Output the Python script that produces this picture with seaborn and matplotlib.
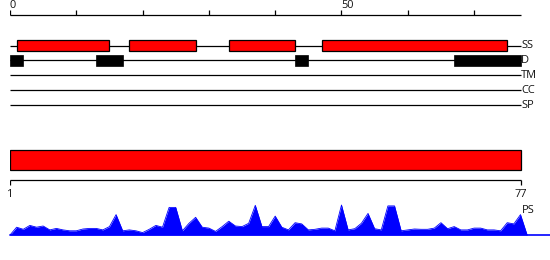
import matplotlib
matplotlib.use("Agg")
import matplotlib.pyplot as plt
import seaborn as sns
import numpy as np
import pandas as pd

# ---- data ----
seq_len = 77
ruler_ticks = [0, 10, 20, 30, 40, 50, 60, 70]
ruler_labels = ["0", "", "", "", "", "50", "", ""]
ss_segments = [(1, 15), (18, 28), (33, 43), (47, 75)]
d_segments = [(0, 2), (13, 17), (43, 45), (67, 77)]
track_names = ["SS", "D", "TM", "CC", "SP"]
bottom_ticks = [0, 77]
bottom_labels = ["1", "77"]
ps_positions = list(range(1, 78))
ps_values = [0.26, 0.19, 0.32, 0.26, 0.30, 0.17, 0.22, 0.17, 0.14, 0.14,
             0.20, 0.22, 0.22, 0.17, 0.28, 0.68, 0.14, 0.17, 0.14, 0.08,
             0.19, 0.32, 0.26, 0.92, 0.92, 0.14, 0.39, 0.59, 0.26, 0.23,
             0.12, 0.28, 0.46, 0.30, 0.28, 0.39, 0.99, 0.28, 0.28, 0.63,
             0.26, 0.17, 0.41, 0.37, 0.17, 0.19, 0.23, 0.23, 0.14, 1.00,
             0.17, 0.21, 0.39, 0.72, 0.21, 0.17, 0.97, 0.97, 0.14, 0.17,
             0.20, 0.19, 0.19, 0.23, 0.41, 0.21, 0.28, 0.17, 0.17, 0.23,
             0.23, 0.17, 0.17, 0.14, 0.41, 0.37, 0.68]

sns.set_theme(style="white")
plt.rcParams['font.family'] = ['Open Sans', 'DejaVu Sans']

W, H = 550, 260
fig = plt.figure(figsize=(W / 100, H / 100), dpi=100)
fig.patch.set_facecolor("white")

left_px = 10
px_per_unit = 510.5 / seq_len
xmax = (W - left_px) / px_per_unit

# layout (pixel rows)
ruler_y = 15
row_y = {"SS": 45.5, "D": 60.3, "TM": 75.3, "CC": 90.2, "SP": 105.3}
bar_h = 10.4
big_top, big_bot = 150, 170.3
axis2_y = 180.3
fs = 7.9
txt_color = "#111111"

ax = fig.add_axes([left_px / W, 0, (W - left_px) / W, 1])
ax.set_xlim(0, xmax)
ax.set_ylim(H, 0)
ax.axis("off")

# top ruler
ax.hlines(ruler_y, 0, seq_len, color="black", lw=0.9)
ax.vlines(ruler_ticks, ruler_y - 5, ruler_y, color="black", lw=0.9)
for t, lab in zip(ruler_ticks, ruler_labels):
    if lab:
        ax.text(t, 5, lab, ha="left", va="center", fontsize=fs, color=txt_color)

# tracks
for name in track_names:
    y = row_y[name]
    ax.hlines(y, 0, seq_len, color="black", lw=0.9, zorder=1)
    ax.text(seq_len + 0.1, y, name, ha="left", va="center", fontsize=fs, color=txt_color)

ax.barh([row_y["SS"]] * len(ss_segments), [e - s for s, e in ss_segments],
        left=[s for s, e in ss_segments], height=bar_h, color="#ff0000",
        edgecolor="black", linewidth=0.9, zorder=2)
ax.barh([row_y["D"]] * len(d_segments), [e - s for s, e in d_segments],
        left=[s for s, e in d_segments], height=bar_h + 0.3, color="black",
        edgecolor="black", linewidth=0.5, zorder=2)

# big red bar
ax.barh([(big_top + big_bot) / 2], [seq_len], left=[0], height=big_bot - big_top,
        color="#ff0000", edgecolor="black", linewidth=0.9)

# bottom ruler
ax.hlines(axis2_y, 0, seq_len, color="black", lw=0.9)
ax.vlines(bottom_ticks, axis2_y, axis2_y + 5, color="black", lw=0.9)
for t, lab in zip(bottom_ticks, bottom_labels):
    ax.text(t, 194.5, lab, ha="center", va="center", fontsize=fs, color=txt_color)
ax.text(seq_len + 0.15, 210.7, "PS", ha="left", va="center", fontsize=fs, color=txt_color)

# PS area
base_px, top_px = 235, 205
ax_ps = fig.add_axes([left_px / W, (H - base_px) / H, (W - left_px) / W, (base_px - top_px) / H])
ax_ps.set_xlim(0, xmax)
ax_ps.set_ylim(0, 1.0)
ax_ps.axis("off")
xs = [0] + ps_positions + [seq_len + 1]
ys = [0] + ps_values + [0]
df = pd.DataFrame({"pos": xs, "score": ys})
ax_ps.fill_between(df["pos"], 0, df["score"], color="#0000ff", lw=0, clip_on=False)
sns.lineplot(data=df, x="pos", y="score", ax=ax_ps, color="#0000ff", lw=0.6,
             clip_on=False, legend=False)
ax_ps.axhline(0, color="#0000ff", lw=1.2, clip_on=False)

fig.savefig("out.png", dpi=100)
